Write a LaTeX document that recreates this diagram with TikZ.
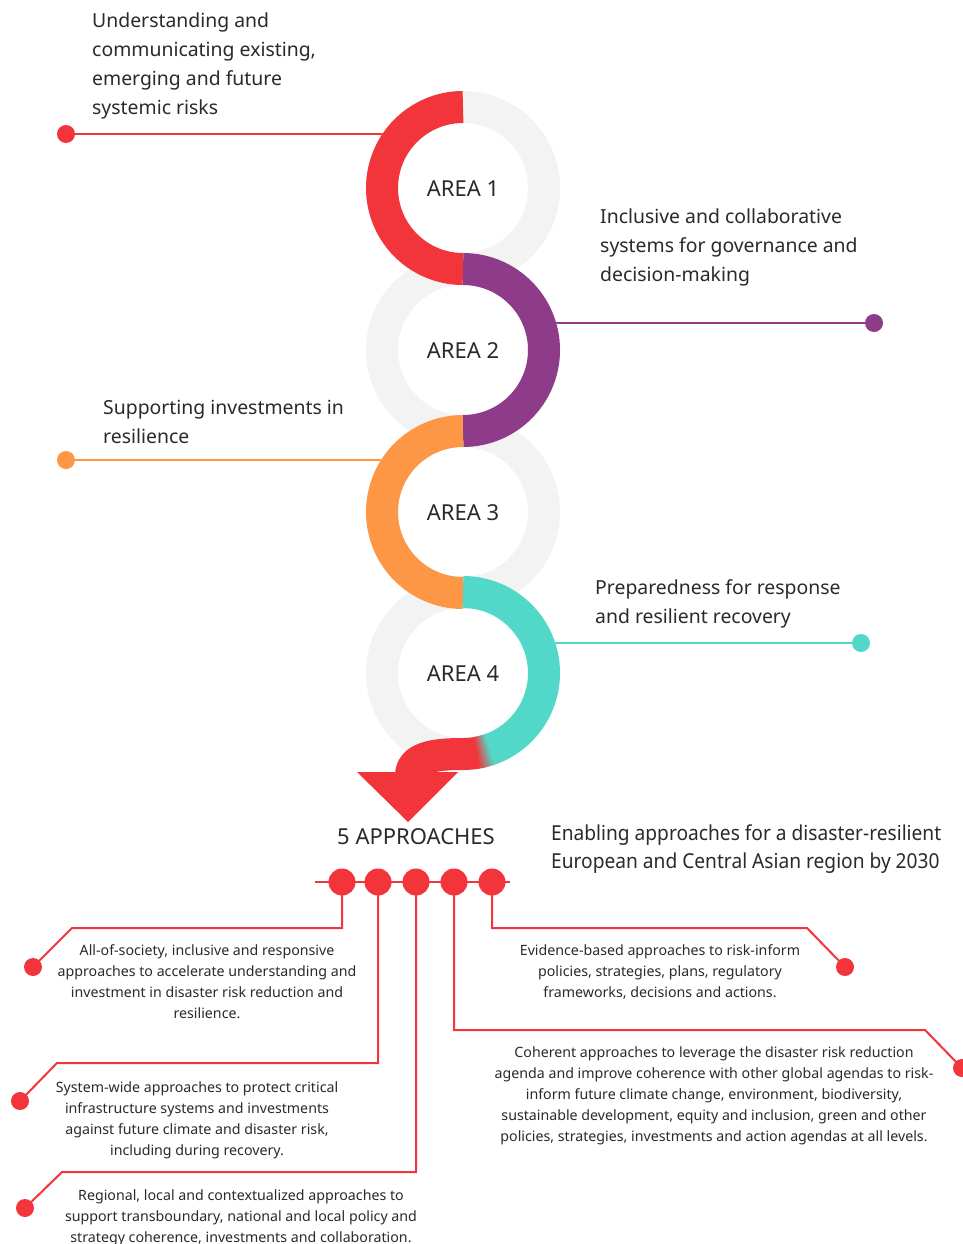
\documentclass[tikz,border=0pt]{standalone}
\usepackage{fontspec}
\setmainfont{Noto Sans}
\newfontfamily\condfont[FakeStretch=0.93]{Noto Sans}
\definecolor{cred}{HTML}{F2353A}
\definecolor{cpurple}{HTML}{8E3C89}
\definecolor{corange}{HTML}{FD9745}
\definecolor{cteal}{HTML}{52D8C8}
\definecolor{cgrey}{HTML}{F3F3F3}
\definecolor{txt}{HTML}{2A2A2A}
\newcommand\tabL[1]{\begin{tabular}[t]{@{}l@{}}#1\end{tabular}}
\newcommand\tabC[1]{\begin{tabular}[t]{@{}c@{}}#1\end{tabular}}
\begin{document}
\begin{tikzpicture}[x=1pt,y=-1pt,
  bigtext/.style={font=\fontsize{19.4}{29}\selectfont, text=txt, inner sep=0pt, anchor=base west},
  smalltext/.style={font=\fontsize{14.2}{21}\selectfont, text=txt, inner sep=0pt, anchor=base},
  arealabel/.style={font=\fontsize{22}{24}\selectfont, text=txt, inner sep=0pt, anchor=base},
  ringline/.style={line width=32pt},
  conn/.style={line width=2pt},
  dotnode/.style={circle, inner sep=0pt, minimum size=18pt},
  adot/.style={circle, inner sep=0pt, minimum size=27pt, fill=cred}]
\useasboundingbox (0,0) rectangle (963,1244);
\clip (0,0) rectangle (963,1244);
\fill[white] (0,0) rectangle (963,1244);

% ring centres
\coordinate (c1) at (463,188);
\coordinate (c2) at (463,350);
\coordinate (c3) at (463,512);
\coordinate (c4) at (463,673);

% area connectors
\node[dotnode, fill=cred] (d1) at (66,134) {};
\coordinate (e1) at (400,134);
\draw[conn, cred] (d1) -- (e1);
\node[dotnode, fill=cpurple] (d2) at (874,323) {};
\coordinate (e2) at (538,323);
\draw[conn, cpurple] (e2) -- (d2);
\node[dotnode, fill=corange] (d3) at (66,460) {};
\coordinate (e3) at (408,460);
\draw[conn, corange] (d3) -- (e3);
\node[dotnode, fill=cteal] (d4) at (861,643) {};
\coordinate (e4) at (538,643);
\draw[conn, cteal] (e4) -- (d4);

% grey rings
\foreach \c in {c1,c2,c3,c4}
  \draw[ringline, cgrey] (\c) circle[radius=81];

% coloured snake
\draw[ringline, cred] (c1) ++(90:81) arc[start angle=90, end angle=270, radius=81];
\draw[ringline, cpurple] (c2) ++(-90:81) arc[start angle=-90, end angle=90, radius=81];
\draw[ringline, corange] (c3) ++(90:81) arc[start angle=90, end angle=270, radius=81];
\draw[ringline, cteal] (c4) ++(-90:81) arc[start angle=-90, end angle=70.5, radius=81];
\foreach \i in {0,...,9}{
  \pgfmathsetmacro\pct{100-10*\i}
  \draw[ringline, color=cteal!\pct!cred] (c4) ++(70+\i:81) arc[start angle=70+\i, end angle=71.5+\i, radius=81];
}
\coordinate (sh) at (411,776);
\draw[ringline, cred] (c4) ++(80:81) arc[start angle=80, end angle=90, radius=81]
   .. controls (432,754) and (411,758) .. (sh);
\coordinate (t1) at (357,772);
\coordinate (t2) at (458,772);
\coordinate (t3) at (408,822);
\fill[cred] (t1) -- (t2) -- (t3) -- cycle;

% area labels
\node[arealabel] (a1lab) at (463,196) {AREA 1};
\node[arealabel] (a2lab) at (463,358) {AREA 2};
\node[arealabel] (a3lab) at (463,520) {AREA 3};
\node[arealabel] (a4lab) at (463,681) {AREA 4};

% area texts
\node[bigtext] (t1txt) at (92,28) {\tabL{Understanding and\\communicating existing,\\emerging and future\\systemic risks}};
\node[bigtext] (t2txt) at (600,223) {\tabL{Inclusive and collaborative\\systems for governance and\\decision-making}};
\node[bigtext] (t3txt) at (103,414) {\tabL{Supporting investments in\\resilience}};
\node[bigtext] (t4txt) at (595,594) {\tabL{Preparedness for response\\and resilient recovery}};

% approaches
\node[font=\fontsize{22}{24}\selectfont, text=txt, inner sep=0pt, anchor=base] (appr) at (416,844) {5 APPROACHES};
\node[font=\condfont\fontsize{20.6}{28.5}\selectfont, text=txt, inner sep=0pt, anchor=base west] (enab) at (551,840) {\tabL{Enabling approaches for a disaster-resilient\\European and Central Asian region by 2030}};

\coordinate (hl) at (315,882);
\coordinate (hr) at (510,882);
\draw[conn, cred] (hl) -- (hr);
\coordinate (a1p) at (342,882);
\coordinate (a2p) at (378,882);
\coordinate (a3p) at (416,882);
\coordinate (a4p) at (454,882);
\coordinate (a5p) at (492,882);

\coordinate (k1a) at (342,928); \coordinate (k1b) at (72,928);
\coordinate (k2a) at (378,1063); \coordinate (k2b) at (57,1063);
\coordinate (k3a) at (416,1172); \coordinate (k3b) at (62,1172);
\coordinate (k4a) at (454,1030); \coordinate (k4b) at (925,1030);
\coordinate (k5a) at (492,928); \coordinate (k5b) at (807,928);

\node[dotnode, fill=cred] (b1) at (33,967) {};
\node[dotnode, fill=cred] (b2) at (20,1101) {};
\node[dotnode, fill=cred] (b3) at (25,1208) {};
\node[dotnode, fill=cred] (b4) at (962,1068) {};
\node[dotnode, fill=cred] (b5) at (845,967) {};

\draw[conn, cred] (a1p) -- (k1a) -- (k1b) -- (b1.center);
\draw[conn, cred] (a2p) -- (k2a) -- (k2b) -- (b2.center);
\draw[conn, cred] (a3p) -- (k3a) -- (k3b) -- (b3.center);
\draw[conn, cred] (a4p) -- (k4a) -- (k4b) -- (b4.center);
\draw[conn, cred] (a5p) -- (k5a) -- (k5b) -- (b5.center);

\node[adot] (ad1) at (a1p) {};
\node[adot] (ad2) at (a2p) {};
\node[adot] (ad3) at (a3p) {};
\node[adot] (ad4) at (a4p) {};
\node[adot] (ad5) at (a5p) {};

% approach texts
\node[smalltext] (s1) at (207,955) {\tabC{All-of-society, inclusive and responsive\\approaches to accelerate understanding and\\investment in disaster risk reduction and\\resilience.}};
\node[smalltext] (s5) at (660,955) {\tabC{Evidence-based approaches to risk-inform\\policies, strategies, plans, regulatory\\frameworks, decisions and actions.}};
\node[smalltext] (s2) at (197,1092) {\tabC{System-wide approaches to protect critical\\infrastructure systems and investments\\against future climate and disaster risk,\\including during recovery.}};
\node[smalltext] (s3) at (241,1200) {\tabC{Regional, local and contextualized approaches to\\support transboundary, national and local policy and\\strategy coherence, investments and collaboration.}};
\node[smalltext] (s4) at (714,1057) {\tabC{Coherent approaches to leverage the disaster risk reduction\\agenda and improve coherence with other global agendas to risk-\\inform future climate change, environment, biodiversity,\\sustainable development, equity and inclusion, green and other\\policies, strategies, investments and action agendas at all levels.}};
\end{tikzpicture}
\end{document}
